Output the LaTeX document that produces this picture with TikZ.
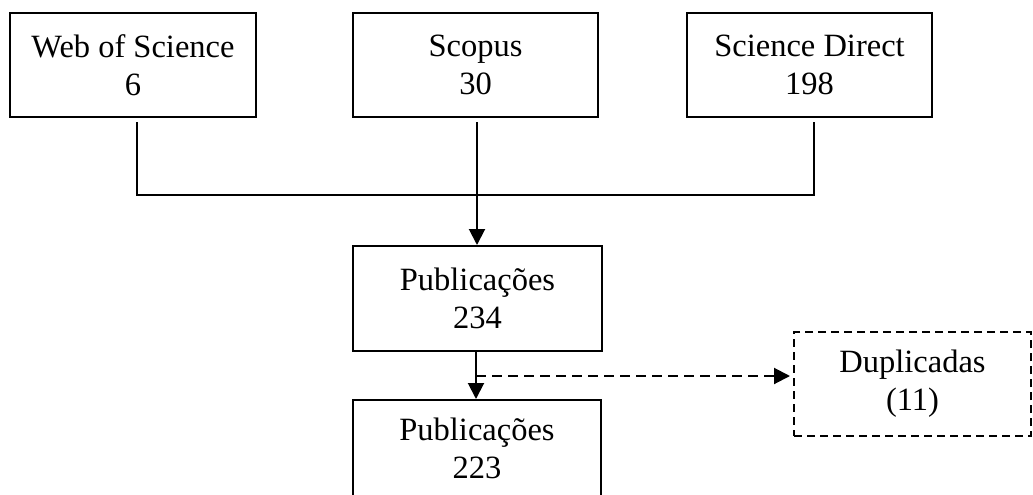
\documentclass[tikz,border=0pt]{standalone}
\usepackage{fontspec}
\setmainfont{Liberation Serif}
\usetikzlibrary{arrows.meta}
\begin{document}
\begin{tikzpicture}[x=1pt,y=-1pt,
  box/.style={draw,line width=2pt,align=center,inner sep=0pt,
    font=\fontsize{32.5}{38}\selectfont},
  dbox/.style={box,dash pattern=on 8pt off 5pt},
  link/.style={line width=2pt},
  arr/.style={link,-{Triangle[width=16pt,length=16pt]}},
  darr/.style={link,dash pattern=on 10pt off 6pt,-{Triangle[width=16pt,length=16pt]}}]
\useasboundingbox (0,0) rectangle (1033,495);
\clip (0,0) rectangle (1033,495);
\node[box,minimum width=246pt,minimum height=104pt] (wos) at (133,65) {Web of Science\\6};
\node[box,minimum width=245pt,minimum height=104pt] (scopus) at (475.5,65) {Scopus\\30};
\node[box,minimum width=245pt,minimum height=104pt] (sd) at (809.5,65) {Science Direct\\198};
\node[box,minimum width=249pt,minimum height=105pt] (pub1) at (477.5,298.5) {Publicações\\234};
\node[box,minimum width=248pt,minimum height=110pt,text depth=14pt] (pub2) at (477,455) {Publicações\\223};
\node[dbox,minimum width=237pt,minimum height=104pt] (dup) at (912.5,384) {Duplicadas\\(11)};
\coordinate (jl) at (137,195);
\coordinate (jr) at (814,195);
\coordinate (jm) at (477,195);
\coordinate (ds) at (476,376);
\draw[link] (jl |- wos.south) ++(0,4) -- (jl) -- (jr) -- ([yshift=-4pt]jr |- sd.south);
\draw[arr] ([yshift=-4pt]jm |- scopus.south) -- (jm |- pub1.north);
\draw[arr] (pub1.south -| ds) -- (pub2.north -| ds);
\draw[darr] (ds) -- ([xshift=-3pt]ds -| dup.west);
\end{tikzpicture}
\end{document}
